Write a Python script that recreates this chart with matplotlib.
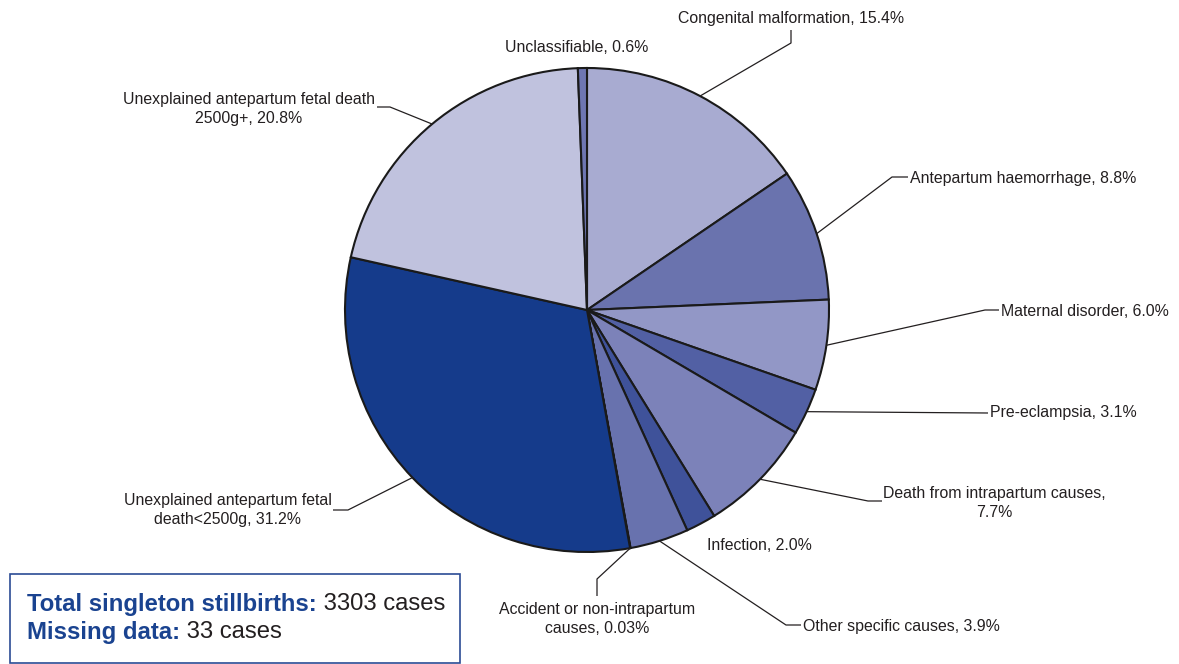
import numpy as np
import matplotlib
matplotlib.use('Agg')
from matplotlib import pyplot as plt

plt.rcParams['font.family'] = ['Liberation Sans', 'DejaVu Sans']

# data (percent of singleton stillbirths), clockwise from 12 o'clock
causes = ['Congenital malformation', 'Antepartum haemorrhage', 'Maternal disorder',
          'Pre-eclampsia', 'Death from intrapartum causes', 'Infection',
          'Other specific causes', 'Accident or non-intrapartum causes',
          'Unexplained antepartum fetal death<2500g',
          'Unexplained antepartum fetal death 2500g+', 'Unclassifiable']
share = [15.4, 8.8, 6.0, 3.1, 7.7, 2.0, 3.9, 0.03, 31.2, 20.8, 0.6]
share_txt = ['15.4%', '8.8%', '6.0%', '3.1%', '7.7%', '2.0%', '3.9%', '0.03%', '31.2%', '20.8%', '0.6%']
total_cases = 3303
missing_cases = 33

colors = ['#A8ABD1', '#6A73AE', '#9297C6', '#5260A4', '#7C82B9', '#3F529A',
          '#6872AE', '#7B83BA', '#153B8B', '#C0C2DE', '#6E76B2']

# label text, text position, alignment and connector elbow (pixel coords)
label_txt = ['Congenital malformation, ' + share_txt[0],
             'Antepartum haemorrhage, ' + share_txt[1],
             'Maternal disorder, ' + share_txt[2],
             'Pre-eclampsia, ' + share_txt[3],
             'Death from intrapartum causes,\n' + share_txt[4],
             'Infection, ' + share_txt[5],
             'Other specific causes, ' + share_txt[6],
             'Accident or non-intrapartum\ncauses, ' + share_txt[7],
             'Unexplained antepartum fetal\ndeath<2500g, ' + share_txt[8],
             'Unexplained antepartum fetal death\n2500g+, ' + share_txt[9],
             'Unclassifiable, ' + share_txt[10]]
label_pos = [(791, 18), (910, 178), (1001, 311), (990, 413), (994, 503), (707, 546),
             (803, 627), (597, 619), (228, 510), (249, 109), (577, 48)]
label_ha = ['center', 'left', 'left', 'left', 'center', 'left', 'left', 'center',
            'center', 'center', 'center']
elbows = [[(791, 43), (791, 30)],
          [(892, 177), (908, 177)],
          [(985, 310), (999, 310)],
          [(988, 413)],
          [(868, 501), (882, 501)],
          None,
          [(786, 625), (801, 625)],
          [(597, 579), (597, 596)],
          [(348, 510), (333, 510)],
          [(390, 107), (377, 107)],
          None]

W, H = 1179, 664
cx, cy, R = 587, 310, 242
txtcol = '#231F20'

fig = plt.figure(figsize=(W / 100, H / 100), dpi=100)
ax = fig.add_axes([0, 0, 1, 1])

# y axis is inverted, so counterclock in data space is clockwise on screen
ax.pie(share, colors=colors, startangle=-90, counterclock=True, center=(cx, cy),
       radius=R, wedgeprops=dict(edgecolor='#1a1a1a', linewidth=1.5), frame=True)
ax.set_xlim(0, W)
ax.set_ylim(H, 0)
ax.axis('off')

frac = np.array(share) / np.sum(share)
mid = np.cumsum(frac) - frac / 2
for i in range(len(causes)):
    ang = np.deg2rad(-90 + 360 * mid[i])
    ax.text(label_pos[i][0], label_pos[i][1], label_txt[i], ha=label_ha[i], va='center',
            multialignment='center', fontsize=11.4, color=txtcol, linespacing=1.4)
    if elbows[i] is not None:
        pts = [(cx + R * np.cos(ang), cy + R * np.sin(ang))] + elbows[i]
        xs = [p[0] for p in pts]
        ys = [p[1] for p in pts]
        ax.plot(xs, ys, color='#231F20', lw=0.9, solid_capstyle='butt')

# summary box
ax.add_patch(plt.Rectangle((10, 574), 450, 89, fill=False, edgecolor='#2B4C95', lw=1.2))
fig.canvas.draw()
rend = fig.canvas.get_renderer()
rows = [('Total singleton stillbirths:', ' %d cases' % total_cases, 604),
        ('Missing data:', ' %d cases' % missing_cases, 632)]
for bold_part, plain_part, yy in rows:
    t = ax.text(27, yy, bold_part, fontsize=17.2, fontweight='bold', color='#1A4390',
                ha='left', va='center')
    bb = t.get_window_extent(renderer=rend)
    x_end = ax.transData.inverted().transform((bb.x1, bb.y0))[0]
    ax.text(x_end, yy, plain_part, fontsize=17.2, color=txtcol, ha='left', va='center')

fig.savefig('out.png', dpi=100)
